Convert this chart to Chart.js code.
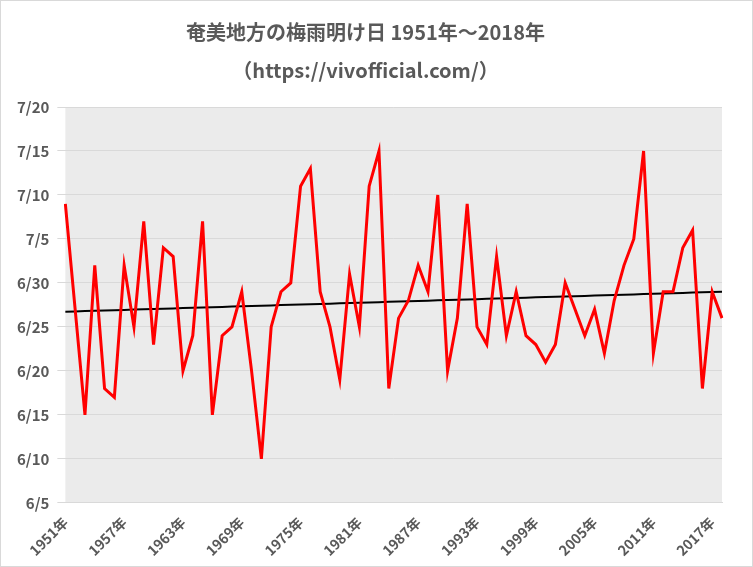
<!DOCTYPE html>
<html><head><meta charset="utf-8">
<script src="https://cdn.jsdelivr.net/npm/chart.js@4"></script>
<style>body{margin:0;background:#fff}#w{width:751px;height:565px;border:1px solid #d9d9d9;position:relative}</style>
</head><body><div id="w"><canvas id="c"></canvas></div>
<script>
const years=[];for(let y=1951;y<=2018;y++)years.push(y+'年');
// days: June d => d, July d => 30+d
const days=[39,27,15,32,18,17,32,25,37,23,34,33,20,24,37,15,24,25,29,20,10,25,29,30,
41,43,29,25,19,31,25,41,45,18,26,28,32,29,40,20,26,39,25,23,33,24,29,
24,23,21,23,30,27,24,27,22,28,32,35,45,22,29,29,34,36,18,29,26];
const yTicks=['6/5','6/10','6/15','6/20','6/25','6/30','7/5','7/10','7/15','7/20'];
const n=days.length;let sx=0,sy=0,sxy=0,sxx=0;
days.forEach((v,i)=>{sx+=i;sy+=v;sxy+=i*v;sxx+=i*i;});
const b=(n*sxy-sx*sy)/(n*sxx-sx*sx),a=(sy-b*sx)/n;
const trend=days.map((_,i)=>a+b*i);
const bg={id:'bg',beforeDraw(c){const{ctx,chartArea:ca}=c;ctx.save();ctx.fillStyle='#ebebeb';ctx.fillRect(ca.left,ca.top,ca.width,ca.height);ctx.restore();}};
new Chart(document.getElementById('c'),{type:'line',
data:{labels:years,datasets:[
{data:days,borderColor:'#ff0000',borderWidth:3,pointRadius:0,tension:0},
{data:trend,borderColor:'#000',borderWidth:2,pointRadius:0,tension:0}]},
options:{responsive:true,maintainAspectRatio:false,animation:false,
layout:{padding:{left:8,right:30,top:6,bottom:4}},
plugins:{legend:{display:false},tooltip:{enabled:false},
title:{display:true,text:['奄美地方の梅雨明け日 1951年～2018年','（https://vivofficial.com/）'],color:'#595959',font:{size:20,weight:'bold',family:'"Noto Sans CJK JP"',lineHeight:1.9},padding:{top:6,bottom:18}}},
scales:{
x:{offset:false,grid:{display:false},border:{color:'#d9d9d9'},
ticks:{autoSkip:false,maxRotation:45,minRotation:45,color:'#595959',font:{size:14,weight:'bold',family:'"Noto Sans CJK JP"'},
callback:(v,i)=>i%6===0?years[i]:''}},
y:{min:5,max:50,grid:{color:'#d9d9d9'},border:{display:false},
ticks:{stepSize:5,color:'#595959',padding:8,font:{size:15,weight:'bold',family:'"Noto Sans CJK JP"'},callback:v=>yTicks[(v-5)/5]}}}},
plugins:[bg]});
</script></body></html>
